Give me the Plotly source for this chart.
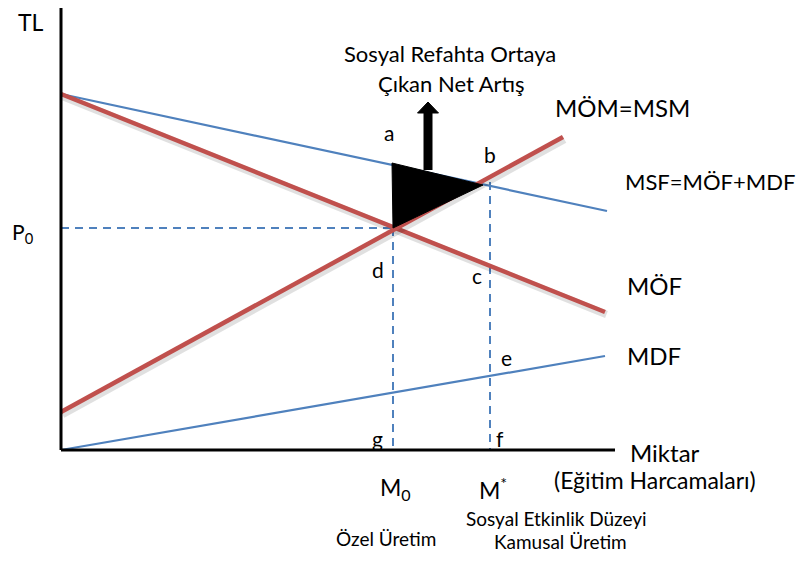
import plotly.graph_objects as go

# ---- data (abstract economic units: quantity on x, TL on y) ----
x_axis_end = 55.4
y_axis_end = 44.6

msf_x = [0, 54.6]
msf_y = [35.6, 23.9]          # MSF = MÖF + MDF
mof_x = [0, 54.4]
mof_y = [35.6, 13.8]          # MÖF
mom_x = [0, 50.2]
mom_y = [3.8, 31.3]           # MÖM = MSM
mdf_x = [0, 54.4]
mdf_y = [0, 9.4]              # MDF

M0 = 33.2
M_star = 42.9
P0 = 22.2
b_level = 26.8

tri_x = [33.1, 42.2, 33.2]
tri_y = [28.7, 26.5, 22.2]

arrow_x = 36.7
arrow_base = 28.0
arrow_tip = 34.8

RED = "#C0504D"
BLUE = "#4F81BD"
FONT = "Lato"

fig = go.Figure()

def line(x, y, color, width, dash=None, shadow=False):
    if shadow:
        fig.add_trace(go.Scatter(x=[v + 0.15 for v in x], y=[v - 0.25 for v in y], mode="lines",
                                 line=dict(color="rgba(0,0,0,0.12)", width=width + 3),
                                 hoverinfo="skip", showlegend=False))
    fig.add_trace(go.Scatter(x=x, y=y, mode="lines",
                             line=dict(color=color, width=width, dash=dash),
                             hoverinfo="skip", showlegend=False))

# dashed guide lines
dash = "8px,6px"
line([0, M0], [P0, P0], BLUE, 2, dash)
line([M0, M0], [P0, 0], BLUE, 2, dash)
line([M_star, M_star], [b_level, 0], BLUE, 2, dash)

# curves
line(mdf_x, mdf_y, BLUE, 2.2)
line(msf_x, msf_y, BLUE, 2.2)
line(mof_x, mof_y, RED, 4.5, shadow=True)
line(mom_x, mom_y, RED, 4.5, shadow=True)

# triangle (net welfare gain)
fig.add_trace(go.Scatter(x=tri_x + [tri_x[0]], y=tri_y + [tri_y[0]], mode="lines",
                         fill="toself", fillcolor="black", line=dict(color="black", width=1),
                         hoverinfo="skip", showlegend=False))

# arrow
fig.add_trace(go.Scatter(x=[arrow_x, arrow_x], y=[arrow_base, arrow_tip - 0.8], mode="lines",
                         line=dict(color="black", width=9), hoverinfo="skip", showlegend=False))
fig.add_trace(go.Scatter(x=[arrow_x - 1.05, arrow_x + 1.05, arrow_x, arrow_x - 1.05],
                         y=[arrow_tip - 1.1, arrow_tip - 1.1, arrow_tip, arrow_tip - 1.1],
                         mode="lines", fill="toself", fillcolor="black",
                         line=dict(color="black", width=1), hoverinfo="skip", showlegend=False))

# axes
line([0, 0], [0, y_axis_end], "black", 3)
line([0, x_axis_end], [0, 0], "black", 3)

def label(text, x, y, size=24, xanchor="center"):
    fig.add_annotation(x=x, y=y, text=text, showarrow=False, xanchor=xanchor, yanchor="middle",
                       font=dict(family=FONT, size=size, color="black"))

label("TL", -3.0, 42.8, 23)
label("P<sub>0</sub>", -3.8, 21.7, 21)
label("Sosyal Refahta Ortaya", 38.9, 39.7, 22)
label("Çıkan Net Artış", 39.0, 36.7, 22)
label("a", 32.8, 31.8, 21)
label("b", 42.9, 29.6, 21)
label("c", 41.6, 17.5, 21)
label("d", 31.7, 18.1, 21)
label("e", 44.5, 9.3, 21)
label("g", 31.6, 1.2, 21)
label("f", 43.9, 1.2, 21)
label("MÖM=MSM", 49.2, 34.3, 24, "left")
label("MSF=MÖF+MDF", 56.2, 26.9, 22, "left")
label("MÖF", 56.4, 16.5, 24, "left")
label("MDF", 56.4, 9.5, 24, "left")
label("Miktar", 56.7, -0.2, 24, "left")
label("(Eğitim Harcamaları)", 49.1, -3.0, 23, "left")
label("M<sub>0</sub>", 33.4, -3.8, 23)
label("M<sup>*</sup>", 43.2, -3.8, 23)
label("Özel Üretim", 32.5, -8.8, 19)
label("Sosyal Etkinlik Düzeyi", 49.5, -6.8, 19)
label("Kamusal Üretim", 49.9, -9.1, 19)

# figure is shifted by the page's 8px body margin, so size/ranges compensate
fig.update_layout(
    width=799, height=545,
    margin=dict(l=0, r=0, t=0, b=0),
    paper_bgcolor="white", plot_bgcolor="white",
    xaxis=dict(range=[-5.3, 74.6], visible=False, fixedrange=True),
    yaxis=dict(range=[-10.3, 44.2], visible=False, fixedrange=True),
    showlegend=False,
)

fig.write_html("out.html")
